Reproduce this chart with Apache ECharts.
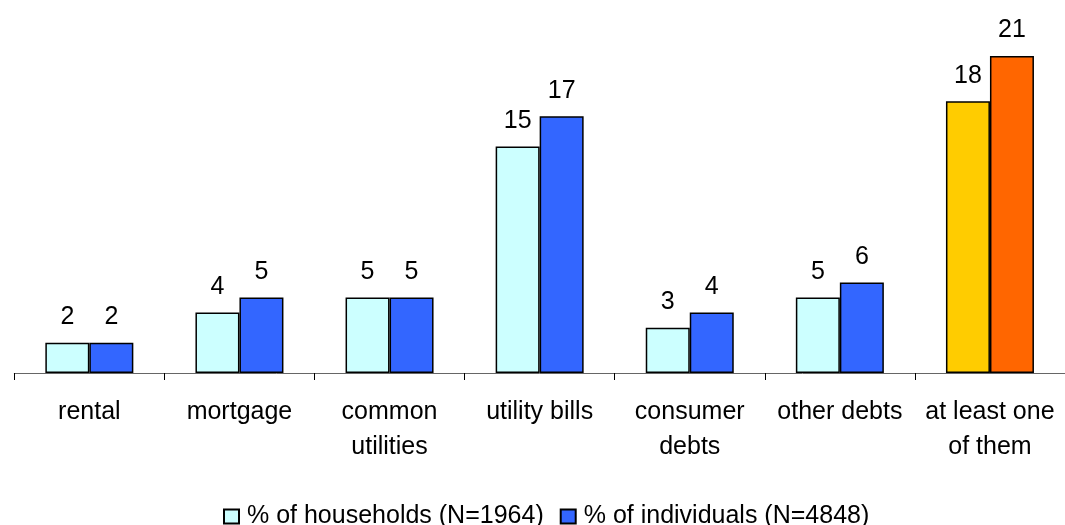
<!DOCTYPE html>
<html>
<head>
<meta charset="utf-8">
<script src="https://cdn.jsdelivr.net/npm/echarts@6/dist/echarts.min.js"></script>
<style>
  html, body { margin: 0; padding: 0; background: #fff; }
  #main { width: 1065px; height: 525px; }
</style>
</head>
<body>
<div id="main"></div>
<script>
// chart data
var categories = ['rental', 'mortgage', 'common\nutilities', 'utility bills', 'consumer\ndebts', 'other debts', 'at least one\nof them'];
var households = [2, 4, 5, 15, 3, 5, 18];
var individuals = [2, 5, 5, 17, 4, 6, 21];
var seriesNames = ['% of households (N=1964)', '% of individuals (N=4848)'];

var colors = ['#CCFFFF', '#3366FF'];
var lastColors = ['#FFCC00', '#FF6600'];
var font = 'Liberation Sans, Arial, sans-serif';

// the last group is drawn in its own colours
function buildData(values, idx) {
  return values.map(function (v, i) {
    if (i === values.length - 1) {
      return { value: v, itemStyle: { color: lastColors[idx] } };
    }
    return v;
  });
}

var chart = echarts.init(document.getElementById('main'), null, { renderer: 'canvas' });

var labelStyle = {
  show: true,
  position: 'top',
  distance: 13,
  color: '#000',
  fontFamily: font,
  fontSize: 25
};

var option = {
  animation: false,
  color: colors,
  grid: {
    left: 14.3,
    right: -8.4,
    top: 10.6,
    bottom: 152
  },
  legend: {
    top: 499,
    left: 218,
    icon: 'rect',
    itemWidth: 15,
    itemHeight: 14,
    itemGap: 16,
    textStyle: {
      color: '#000',
      fontFamily: font,
      fontSize: 25,
      padding: [0, 0, 0, 3]
    },
    data: seriesNames
  },
  xAxis: {
    type: 'category',
    data: categories,
    axisLine: { lineStyle: { color: '#666', width: 1 } },
    axisTick: { show: true, length: 7, lineStyle: { color: '#000' } },
    axisLabel: {
      color: '#000',
      margin: 22,
      fontFamily: font,
      fontSize: 25,
      lineHeight: 35,
      interval: 0
    }
  },
  yAxis: {
    type: 'value',
    min: 0,
    max: 24,
    show: false,
    splitLine: { show: false }
  },
  series: [{
    name: seriesNames[0],
    type: 'bar',
    barWidth: 44,
    barGap: '0%',
    itemStyle: { borderColor: '#000', borderWidth: 1.5 },
    label: labelStyle,
    data: buildData(households, 0)
  }, {
    name: seriesNames[1],
    type: 'bar',
    barWidth: 44,
    barGap: '0%',
    itemStyle: { borderColor: '#000', borderWidth: 1.5 },
    label: labelStyle,
    data: buildData(individuals, 1)
  }]
};

chart.setOption(option);
</script>
</body>
</html>
